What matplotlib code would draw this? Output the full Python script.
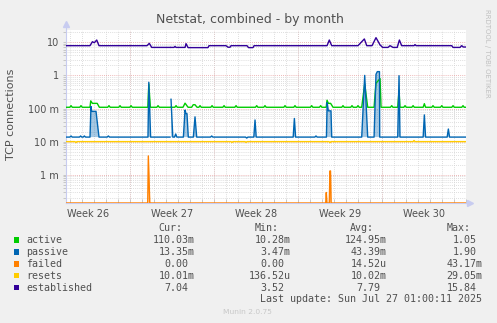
import numpy as np
import matplotlib.pyplot as plt
from matplotlib.lines import Line2D
from matplotlib.patches import Rectangle
from matplotlib.ticker import FixedLocator, LogLocator, NullFormatter

nan = np.nan

# x = days from the left edge of the graph, y = connections (log scale)
x_active = [0.0, 0.32, 0.42, 0.52, 1.15, 1.25, 1.35, 2.0, 2.06, 2.2, 2.6, 2.78,
            3.48, 3.58, 3.68, 4.4, 4.5, 4.6, 5.32, 5.42, 5.52, 6.82, 6.9, 7.03,
            7.57, 7.67, 7.77, 8.67, 8.71, 8.75, 9.07, 9.17, 9.27,
            9.75, 9.92, 10.17, 10.47, 10.6, 10.75, 10.92,
            11.07, 11.17, 11.27, 12.07, 12.17, 12.27, 13.07, 13.17, 13.27,
            14.07, 14.17, 14.27, 15.79, 15.89, 15.99, 16.48, 16.58, 16.68,
            18.15, 18.25, 18.35, 18.98, 19.08, 19.18, 20.37, 20.47, 20.57,
            21.12, 21.22, 21.32, 21.68, 21.75, 21.86, 22.05, 22.25,
            22.98, 23.08, 23.18, 23.73, 23.83, 23.93, 24.23, 24.33, 24.43,
            24.64, 24.89, 25.14, 25.67, 25.83, 26.17, 26.25,
            27.04, 27.14, 27.24, 27.64, 27.75, 27.83, 28.15, 28.25, 28.35,
            28.82, 28.92, 29.02, 29.76, 29.86, 29.96, 30.48, 30.58, 30.68,
            31.21, 31.31, 31.41, 32.15, 32.25, 32.35, 32.98, 33.08, 33.18, 33.33]
active = [.109, .109, .122, .109, .109, .122, .109, .109, .17, .143, .143, .109,
          .109, .122, .109, .109, .122, .109, .109, .122, .109, .109, .55, .109,
          .109, .122, .109, .109, nan, .109, .109, .122, .109,
          .109, .145, .109, .109, .13, .13, .109,
          .109, .122, .109, .109, .122, .109, .109, .122, .109,
          .109, .122, .109, .109, .122, .109, .109, .122, .109,
          .109, .122, .109, .109, .122, .109, .109, .122, .109,
          .109, .122, .109, .109, .178, .143, .143, .109,
          .109, .122, .109, .109, .122, .109, .109, .122, .109,
          .109, .55, .109, .109, .58, .8, .109,
          .109, .122, .109, .109, .35, .109, .109, .122, .109,
          .109, .122, .109, .109, .14, .109, .109, .122, .109,
          .109, .122, .109, .109, .122, .109, .109, .122, .109, .109]

x_passive = [0.0, 0.32, 0.42, 0.52, 1.12, 1.22, 1.32, 1.43, 1.53, 1.63,
             2.0, 2.08, 2.14, 2.5, 2.75, 3.43, 3.53, 3.63, 6.83, 6.9, 7.05,
             8.67, 8.71, 8.75, 8.9, 9.04, 9.14, 9.24,
             9.78, 9.92, 10.0, 10.08, 10.19, 10.61, 10.75, 10.89,
             12.04, 12.14, 12.24, 14.96, 15.06, 15.16, 15.65, 15.75, 15.85,
             18.93, 19.03, 19.13, 20.73, 20.83, 20.93,
             21.7, 21.76, 21.86, 22.08, 22.14, 24.64, 24.89, 25.14,
             25.67, 25.83, 25.94, 26.12, 26.14, 27.64, 27.75, 27.83,
             29.76, 29.86, 29.96, 31.76, 31.86, 31.96, 33.33]
passive = [.0137, .0137, .0148, .0137, .0137, .0148, .0137, .0137, .0148, .0137,
           .0137, .115, .082, .082, .0137, .0137, .0148, .0137, .0137, .62, .0137,
           .0137, nan, .19, .0137, .0137, .017, .0137,
           .0137, .09, .07, .07, .0137, .0137, .056, .0137,
           .0137, .0148, .0137, .0137, .0128, .0137, .0137, .045, .0137,
           .0137, .05, .0137, .0137, .0148, .0137,
           .0137, .15, .085, .085, .0137, .0137, 1.0, .0137,
           .0137, 1.08, 1.3, 1.3, .0137, .0137, .98, .0137,
           .0137, .064, .0137, .0137, .024, .0137, .0137]
passive_floor = 0.0137

x_failed = [0.0, 6.81, 6.86, 6.98, 21.64, 21.69, 21.74, 21.94, 21.99, 22.04, 22.09, 33.33]
failed = [0, 0, .0037, 0, 0, .00029, 0, 0, .0013, .0013, 0, 0]

x_resets = [0.0, 0.75, 0.83, 0.91, 8.67, 8.71, 8.75, 13.75, 13.83, 13.91,
            14.92, 15.0, 15.08, 21.92, 22.0, 22.08, 28.92, 29.0, 29.08, 33.33]
resets = [.01, .01, .0093, .01, .01, nan, .01, .01, .0094, .01,
          .01, .0094, .01, .01, .0093, .01, .01, .0108, .01, .01]

x_established = [0.0, 2.0, 2.2, 2.36, 2.56, 2.75, 6.75, 6.94, 7.14, 8.67, 8.71, 8.75,
                 9.0, 9.08, 9.17, 9.92, 10.0, 10.17, 11.83, 11.92, 13.33, 13.5,
                 13.67, 13.75, 15.08, 15.21, 15.58, 15.67, 21.75, 21.94, 22.14,
                 24.33, 24.86, 25.06, 25.5, 25.83, 26.17, 26.39, 26.83, 27.0,
                 27.25, 27.6, 27.78, 27.97, 29.0, 29.08, 29.17, 32.14, 32.25,
                 32.83, 32.97, 33.1, 33.33]
established = [7.9, 7.9, 10.4, 9.7, 11.7, 7.9, 7.9, 9.3, 7.0, 7.0, nan, 7.0,
               7.0, 7.5, 7.0, 7.0, 9.1, 6.9, 6.9, 7.9, 7.9, 7.1,
               7.1, 7.9, 7.9, 6.9, 6.9, 7.9, 7.9, 11.7, 7.9,
               7.9, 12.6, 7.9, 7.9, 13.8, 8.3, 7.0, 7.0, 7.9,
               7.0, 7.0, 11.7, 7.9, 7.9, 8.5, 7.9, 7.9, 7.0,
               7.0, 7.9, 7.2, 7.2]

week_labels = ['Week 26', 'Week 27', 'Week 28', 'Week 29', 'Week 30']
week_label_pos = [1.83, 8.83, 15.83, 22.83, 29.83]
week_lines = [5.33, 12.33, 19.33, 26.33, 33.33]
day_ticks = [0.33 + d for d in range(34)]

ytick_vals = [1e-3, 1e-2, 1e-1, 1, 10]
ytick_labels = ['1 m', '10 m', '100 m', '1', '10']

names = ['active', 'passive', 'failed', 'resets', 'established']
colors = ['#00CC00', '#0066B3', '#FF8000', '#FFCC00', '#330099']
cur = ['110.03m', '13.35m', '0.00', '10.01m', '7.04']
mins = ['10.28m', '3.47m', '0.00', '136.52u', '3.52']
avgs = ['124.95m', '43.39m', '14.52u', '10.02m', '7.79']
maxs = ['1.05', '1.90', '43.17m', '29.05m', '15.84']

W, H = 497, 323
def fx(px): return px / W
def fy(py): return 1 - py / H

txt = '#505050'
axis_c = '#C8CCF0'

fig = plt.figure(figsize=(W / 100, H / 100), dpi=100)
fig.patch.set_facecolor('#F0F0F0')
ax = fig.add_axes([fx(66), fy(203), 400 / W, 173 / H])
ax.set_facecolor('white')
ax.set_yscale('log')
y_bottom, y_top = 1.4e-4, 23.5
ax.set_xlim(0, 33.33)
ax.set_ylim(y_bottom, y_top)

# grid
ax.set_axisbelow(True)
ax.yaxis.set_major_locator(FixedLocator(ytick_vals))
ax.yaxis.set_major_formatter(plt.FixedFormatter(ytick_labels))
ax.yaxis.set_minor_locator(LogLocator(base=10, subs=np.arange(2, 10), numticks=30))
ax.yaxis.set_minor_formatter(NullFormatter())
ax.grid(which='minor', axis='y', color='#D4D4D4', lw=0.6, ls=(0, (1, 1.5)))
ax.grid(which='major', axis='y', color='#E8A0A0', lw=0.6, ls=(0, (1, 1.5)))
ax.set_xticks(day_ticks, minor=True)
ax.grid(which='minor', axis='x', color='#D4D4D4', lw=0.6, ls=(0, (1, 1.5)))
for w in week_lines:
    ax.axvline(w, color='#E8A0A0', lw=0.6, ls=(0, (1, 1.5)), zorder=0.5)
ax.set_xticks(week_label_pos, week_labels)

ax.tick_params(axis='x', which='major', length=0, pad=4, labelsize=7, labelcolor=txt)
ax.tick_params(axis='x', which='minor', direction='in', length=3, width=0.6, color='#C0C0C0')
ax.tick_params(axis='y', which='both', direction='out', length=2, width=0.6,
               color='#C0C0C0', labelsize=7, labelcolor=txt, pad=3)
for s in ['top', 'right']:
    ax.spines[s].set_visible(False)
for s in ['left', 'bottom']:
    ax.spines[s].set_color(axis_c)
    ax.spines[s].set_linewidth(0.8)

# series
ax.plot(x_active, active, color=colors[0], lw=1.0, zorder=3)
ax.fill_between(x_passive, passive, passive_floor, color=colors[1], alpha=0.35, lw=0, zorder=2)
ax.plot(x_passive, passive, color=colors[1], lw=1.0, zorder=3)
failed_plot = np.clip(np.array(failed, dtype=float), y_bottom, None)
ax.fill_between(x_failed, failed_plot, y_bottom, color=colors[2], alpha=0.35, lw=0, zorder=2)
ax.plot(x_failed, failed_plot, color=colors[2], lw=1.0, zorder=3)
ax.plot(x_resets, resets, color=colors[3], lw=1.0, zorder=3)
ax.plot(x_established, established, color=colors[4], lw=1.0, zorder=3)

# axis arrows
fig.add_artist(Line2D([fx(66.4)] * 2, [fy(30), fy(24)], color=axis_c, lw=0.8))
fig.add_artist(Line2D([fx(66.4)], [fy(24)], marker='^', ms=4, color=axis_c, lw=0))
fig.add_artist(Line2D([fx(466), fx(470)], [fy(203)] * 2, color=axis_c, lw=0.8))
fig.add_artist(Line2D([fx(470)], [fy(203)], marker='>', ms=4, color=axis_c, lw=0))

# titles
fig.text(fx(250), fy(19), 'Netstat, combined - by month', ha='center', va='center',
         fontsize=9, color=txt)
fig.text(fx(11), fy(114), 'TCP connections', rotation=90, ha='center', va='center',
         fontsize=8, color=txt)
fig.text(fx(487.5), fy(53.5), 'RRDTOOL / TOBI OETIKER', rotation=270, ha='center',
         va='center', fontsize=5, color='#C0C0C0')
fig.text(fx(247.5), fy(312), 'Munin 2.0.75', ha='center', va='center', fontsize=5.4,
         color='#C8C8C8')

# legend table (monospace)
x0, cw = 26.3, 6.0
mono = dict(family='DejaVu Sans Mono', fontsize=7.2, color=txt, va='center', ha='left')

def put(col, py, s):
    fig.text(fx(x0 + col * cw), fy(py), s, **mono)

def field(v):
    if v[-1].isalpha():
        return v[:-1].rjust(6) + v[-1]
    return v.rjust(6) + ' '

row_y = [240, 251.9, 263.8, 275.7, 287.6]
for col, head in zip([22, 38, 54, 70], ['Cur:', 'Min:', 'Avg:', 'Max:']):
    put(col, 228.1, head)
for i, name in enumerate(names):
    yc = row_y[i]
    fig.add_artist(Rectangle((fx(14), fy(yc + 2.7)), 5.4 / W, 5.4 / H,
                             facecolor=colors[i], edgecolor='none',
                             transform=fig.transFigure))
    put(0, yc, name)
    for col, vals in zip([21, 37, 53, 69], [cur, mins, avgs, maxs]):
        f = field(vals[i])
        lead = len(f) - len(f.lstrip())
        put(col + lead, yc, f.strip())
put(39, 299.5, 'Last update: Sun Jul 27 01:00:11 2025')

fig.savefig('out.png', dpi=100, facecolor=fig.get_facecolor())
